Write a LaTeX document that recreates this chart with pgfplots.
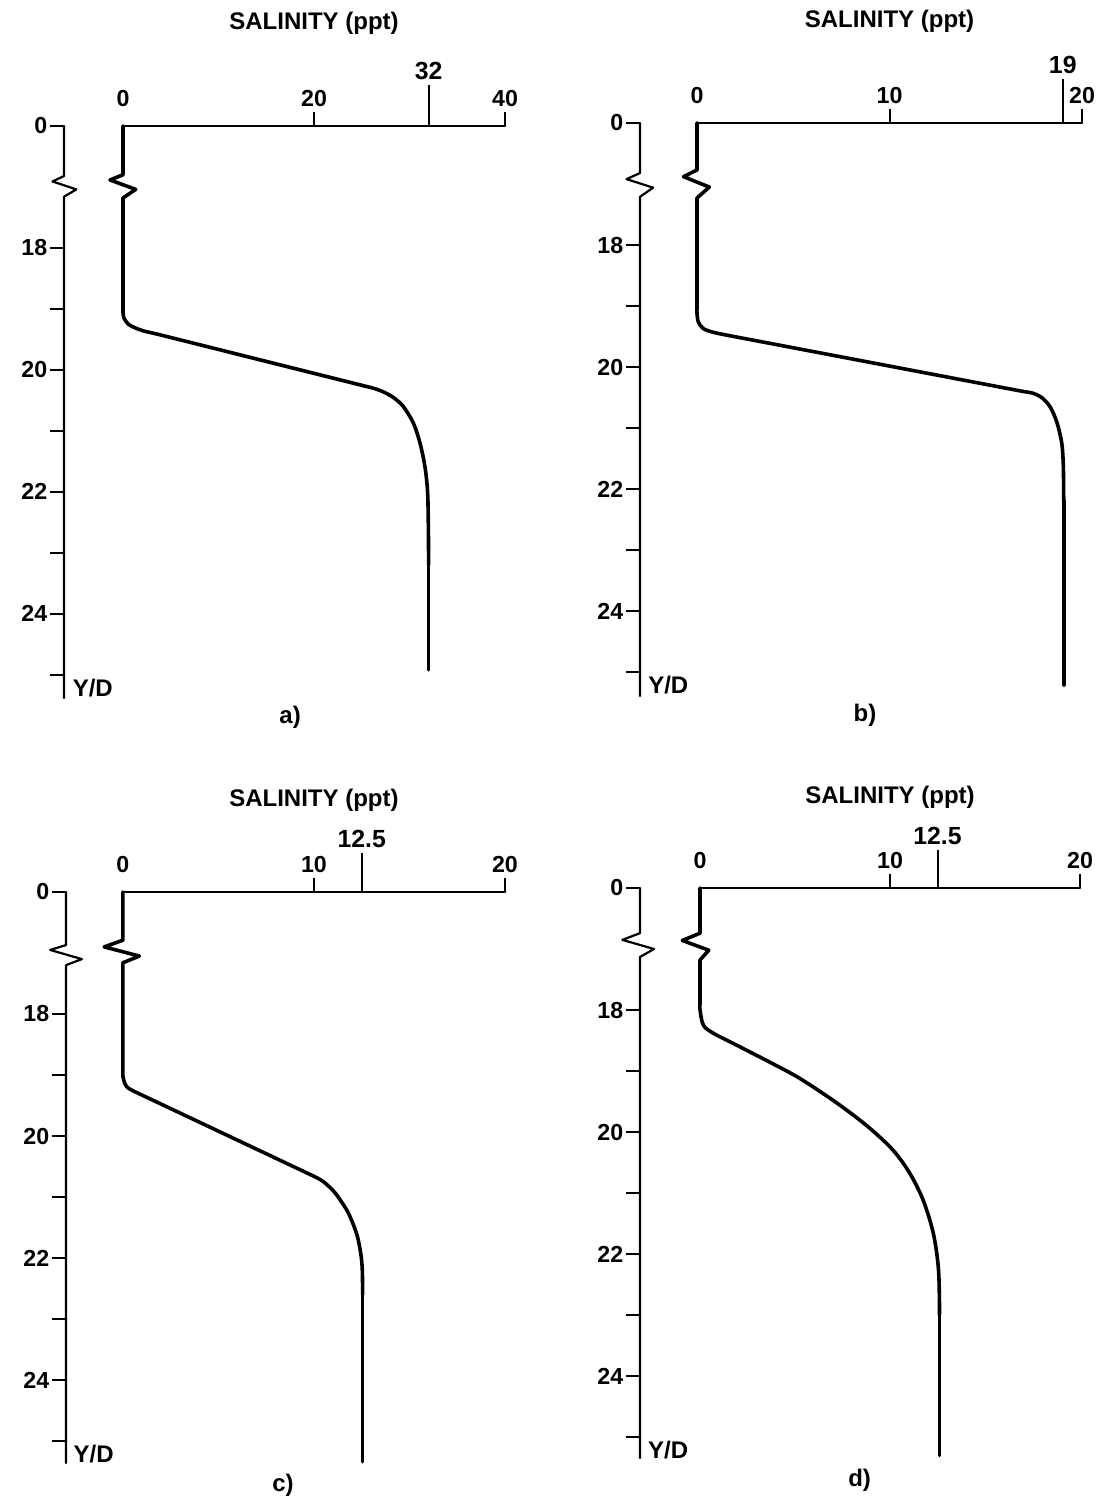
\documentclass[border=0pt]{standalone}
\usepackage{pgfplots}
\pgfplotsset{compat=1.18}
\usepackage{fontspec}
\setmainfont{Liberation Sans}
\newcommand\tfont{\fontsize{11.6pt}{12pt}\selectfont\bfseries}
\newcommand\lfont{\fontsize{12.4pt}{13pt}\selectfont\bfseries}
\newcommand\bfont{\fontsize{12pt}{13pt}\selectfont\bfseries}
\begin{document}
\begin{tikzpicture}
\useasboundingbox (0,0) rectangle (553pt,751.5pt);
\pgfplotsset{
  panel/.style={
    scale only axis, anchor=north west,
    y dir=reverse, ymin=0,
    axis x line*=top, axis y line*=left,
    axis line style={draw=none},
    tick align=outside,
    major tick length=7pt,
    tick style={black, line width=1pt},
    ytick={0,2,3,4,5,6,7,8,9},
    yticklabels={0,18,,20,,22,,24,},
    tick label style={font=\tfont},
    yticklabel style={inner xsep=1.2pt},
    xticklabel style={inner ysep=2.2pt},
    /pgf/number format/assume math mode=true,
    clip=false,
  },
  axisline/.style={black, line width=1.1pt, line join=round, line cap=round},
  topline/.style={black, line width=1.3pt, line join=round, line cap=round},
  curve/.style={black, line width=1.8pt, line join=round, line cap=round},
}
% ---------------- a) ----------------
\begin{axis}[panel, at={(32pt,688.5pt)}, width=220.5pt, height=286pt,
  xmin=-6.18, xmax=40, ymax=9.38,
  xtick={20,40}, xticklabels={20,40},
  extra x ticks={32}, extra x tick labels={32},
  extra x tick style={major tick length=20.5pt, tick label style={font=\lfont}}]
\addplot[axisline] coordinates {(-6.18,0) (-6.18,0.82) (-7.39,0.91) (-4.89,1.04) (-6.18,1.16) (-6.18,9.38)};
\addplot[topline] coordinates {(0,0) (40,0)};
\addplot[curve, sharp plot] coordinates {(0,0) (0,0.80) (-1.36,0.885) (1.33,1.04) (0,1.18) (0,3.0)};
\addplot[curve, smooth, tension=0.5] coordinates {(0,3.0) (0,3.06) (0.10,3.15) (0.55,3.25) (1.26,3.31) (2.13,3.36) (3.5,3.41)};
\addplot[curve, sharp plot] coordinates {(3.5,3.41) (25.2,4.26)};
\addplot[curve, smooth, tension=0.5] coordinates {(25.2,4.26) (26.21,4.30) (27.26,4.36) (28.30,4.45) (29.35,4.60) (30.40,4.87) (31.10,5.20) (31.62,5.59) (31.90,6.02) (31.98,6.67) (32,7.2)};
\addplot[curve, sharp plot] coordinates {(32,7.2) (32,8.92)};
\node[anchor=south, inner ysep=2.2pt, yshift=7pt, font=\tfont] at (axis cs:0,0) {0};
\node[font=\bfont] at (axis cs:20,-1.68) {SALINITY (ppt)};
\node[anchor=west, inner xsep=0pt, font=\bfont] at (axis cs:-5.3,9.21) {Y/D};
\node[font=\bfont] at (axis cs:17.5,9.70) {a)};
\end{axis}
% ---------------- b) ----------------
\begin{axis}[panel, at={(320pt,690pt)}, width=221pt, height=286.5pt,
  xmin=-2.96, xmax=20, ymax=9.39,
  xtick={10,20}, xticklabels={10,20},
  extra x ticks={19}, extra x tick labels={19},
  extra x tick style={major tick length=22pt, tick label style={font=\lfont}}]
\addplot[axisline] coordinates {(-2.96,0) (-2.96,0.82) (-3.66,0.92) (-2.28,1.06) (-2.96,1.21) (-2.96,9.39)};
\addplot[topline] coordinates {(0,0) (20,0)};
\addplot[curve, sharp plot] coordinates {(0,0) (0,0.77) (-0.70,0.88) (0.64,1.05) (0,1.23) (0,3.05)};
\addplot[curve, smooth, tension=0.5] coordinates {(0,3.05) (0,3.12) (0.07,3.26) (0.33,3.37) (0.85,3.43) (1.6,3.48)};
\addplot[curve, sharp plot] coordinates {(1.6,3.48) (16.95,4.40)};
\addplot[curve, smooth, tension=0.5] coordinates {(16.95,4.40) (17.47,4.43) (17.91,4.50) (18.34,4.65) (18.69,4.90) (18.95,5.25) (19.03,5.63) (19.05,6.2)};
\addplot[curve, sharp plot] coordinates {(19.05,6.2) (19.05,9.21)};
\node[anchor=south, inner ysep=2.2pt, yshift=7pt, font=\tfont] at (axis cs:0,0) {0};
\node[font=\bfont] at (axis cs:10,-1.66) {SALINITY (ppt)};
\node[anchor=west, inner xsep=0pt, font=\bfont] at (axis cs:-2.55,9.21) {Y/D};
\node[font=\bfont] at (axis cs:8.73,9.70) {b)};
\end{axis}
% ---------------- c) ----------------
\begin{axis}[panel, at={(33pt,305.5pt)}, width=219.5pt, height=285.5pt,
  xmin=-2.98, xmax=20, ymax=9.36,
  xtick={10,20}, xticklabels={10,20},
  extra x ticks={12.5}, extra x tick labels={12.5},
  extra x tick style={major tick length=19.5pt, tick label style={font=\lfont}}]
\addplot[axisline] coordinates {(-2.98,0) (-2.98,0.87) (-3.81,0.95) (-2.15,1.10) (-2.98,1.20) (-2.98,9.36)};
\addplot[topline] coordinates {(0,0) (20,0)};
\addplot[curve, sharp plot] coordinates {(0,0) (0,0.79) (-0.98,0.90) (0.86,1.05) (0,1.16) (0,2.95)};
\addplot[curve, smooth, tension=0.5] coordinates {(0,2.95) (0,3.02) (0.1,3.14) (0.26,3.21) (0.6,3.27)};
\addplot[curve, sharp plot] coordinates {(0.6,3.27) (10.0,4.66)};
\addplot[curve, smooth, tension=0.5] coordinates {(10.0,4.66) (10.5,4.75) (11.1,4.93) (11.78,5.25) (12.25,5.62) (12.46,5.95) (12.53,6.2) (12.55,6.6)};
\addplot[curve, sharp plot] coordinates {(12.55,6.6) (12.55,9.34)};
\node[anchor=south, inner ysep=2.2pt, yshift=7pt, font=\tfont] at (axis cs:0,0) {0};
\node[font=\bfont] at (axis cs:10,-1.51) {SALINITY (ppt)};
\node[anchor=west, inner xsep=0pt, font=\bfont] at (axis cs:-2.6,9.21) {Y/D};
\node[font=\bfont] at (axis cs:8.38,9.72) {c)};
\end{axis}
% ---------------- d) ----------------
\begin{axis}[panel, at={(320pt,307.5pt)}, width=220pt, height=285pt,
  xmin=-3.16, xmax=20, ymax=9.34,
  xtick={10,20}, xticklabels={10,20},
  extra x ticks={12.5}, extra x tick labels={12.5},
  extra x tick style={major tick length=19pt, tick label style={font=\lfont}}]
\addplot[axisline] coordinates {(-3.16,0) (-3.16,0.74) (-4.09,0.85) (-2.42,1.00) (-3.16,1.13) (-3.16,9.34)};
\addplot[topline] coordinates {(0,0) (20,0)};
\addplot[curve, sharp plot] coordinates {(0,0) (0,0.74) (-0.93,0.86) (0.46,1.02) (0,1.18) (0,1.9)};
\addplot[curve, smooth, tension=0.55] coordinates {(0,1.9) (0,2.0) (0.18,2.25) (0.70,2.38) (1.58,2.52) (2.46,2.66) (3.77,2.87) (5.09,3.09) (6.49,3.37) (7.72,3.64) (8.95,3.94) (10.17,4.30) (11.05,4.68) (11.75,5.12) (12.28,5.66) (12.54,6.21) (12.6,6.75) (12.6,7.0)};
\addplot[curve, sharp plot] coordinates {(12.6,7.0) (12.6,9.30)};
\node[anchor=south, inner ysep=2.2pt, yshift=7pt, font=\tfont] at (axis cs:0,0) {0};
\node[font=\bfont] at (axis cs:10,-1.49) {SALINITY (ppt)};
\node[anchor=west, inner xsep=0pt, font=\bfont] at (axis cs:-2.75,9.21) {Y/D};
\node[font=\bfont] at (axis cs:8.4,9.70) {d)};
\end{axis}
\end{tikzpicture}
\end{document}
